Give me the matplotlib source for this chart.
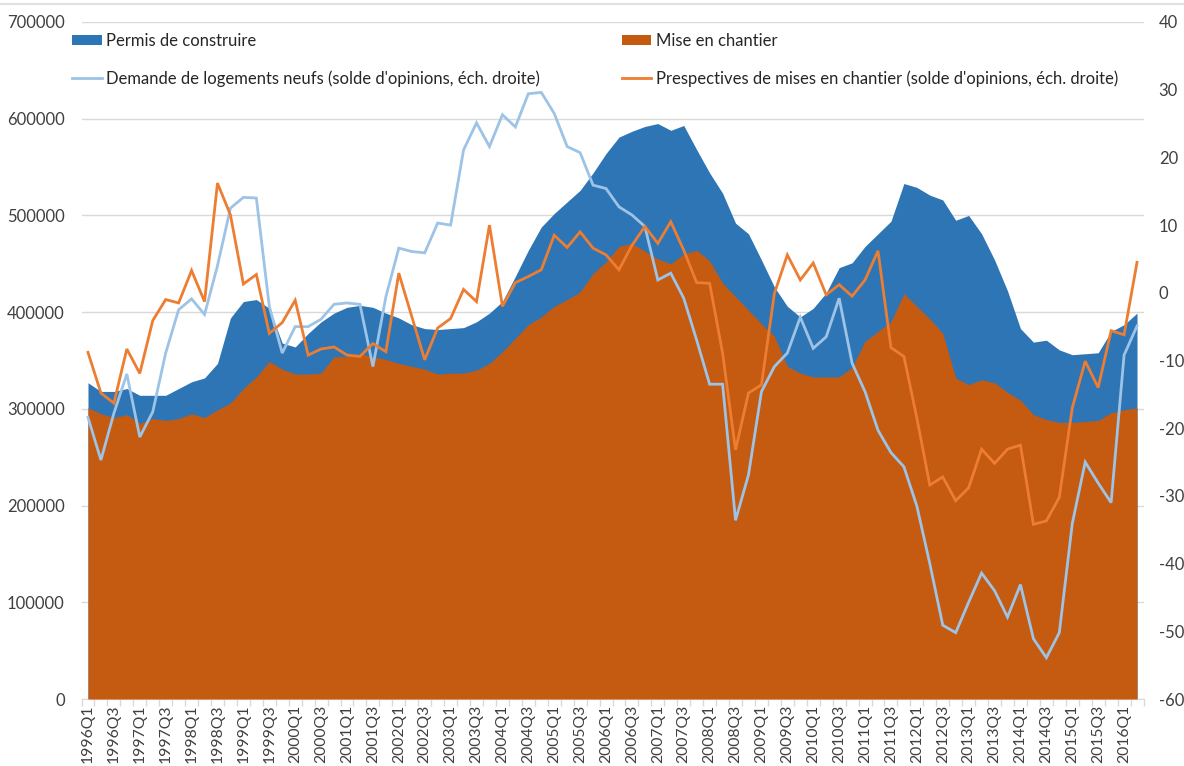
import matplotlib
matplotlib.use("Agg")
import matplotlib.pyplot as plt
from matplotlib.patches import Patch
from matplotlib.lines import Line2D
from matplotlib.ticker import FixedLocator

plt.rcParams['font.family'] = ['Lato', 'DejaVu Sans']
plt.rcParams['axes.unicode_minus'] = False

quarters = [f"{y}Q{q}" for y in range(1996, 2017) for q in range(1, 5)][:82]

permis = [327, 318, 318, 321, 314, 314, 314, 321, 328, 332,
          347, 394, 411, 413, 404, 368, 364, 378, 390, 399,
          405, 407, 405, 399, 394, 387, 383, 382, 383, 384,
          390, 399, 411, 437, 464, 488, 502, 514, 526, 544,
          564, 581, 587, 592, 595, 588, 593, 568, 544, 523,
          492, 481, 454, 426, 406, 395, 404, 420, 446, 451,
          468, 481, 494, 533, 529, 521, 516, 495, 500, 481,
          454, 422, 383, 369, 371, 361, 356, 357, 358, 380,
          387, 399]
permis = [v * 1000 for v in permis]

mises = [301, 295, 291, 294, 285, 290, 288, 290, 295, 291,
         299, 306, 321, 333, 349, 341, 336, 336, 337, 354,
         354, 357, 354, 351, 347, 344, 341, 336, 337, 337,
         340, 347, 359, 373, 387, 395, 406, 413, 421, 440,
         452, 468, 471, 463, 455, 450, 460, 464, 453, 430,
         416, 402, 388, 375, 344, 337, 333, 333, 333, 343,
         370, 380, 390, 419, 406, 393, 378, 332, 325, 330,
         327, 317, 309, 294, 289, 286, 286, 287, 288, 296,
         299, 301]
mises = [v * 1000 for v in mises]

demande = [-18.4, -24.7, -17.8, -12.0, -21.3, -17.6, -8.9, -2.5, -0.9, -3.2,
           4.0, 12.5, 14.1, 14.0, -2.0, -8.9, -5.0, -5.0, -3.9, -1.7,
           -1.5, -1.7, -10.9, -0.6, 6.6, 6.1, 5.9, 10.3, 10.0, 21.1,
           25.1, 21.6, 26.3, 24.5, 29.4, 29.6, 26.5, 21.6, 20.7, 15.9,
           15.4, 12.7, 11.5, 9.8, 1.9, 2.9, -0.8, -7.0, -13.5, -13.5,
           -33.6, -26.9, -14.6, -10.9, -8.9, -3.6, -8.2, -6.5, -0.8, -10.4,
           -14.6, -20.3, -23.6, -25.7, -31.5, -40.0, -49.1, -50.2, -45.7, -41.4,
           -44.0, -47.9, -43.1, -51.1, -53.9, -50.2, -34.1, -25.0, -28.1, -31.0,
           -9.2, -4.9]

perspectives = [-8.8, -14.8, -16.3, -8.3, -11.9, -4.1, -1.0, -1.5, 3.3, -1.3,
                16.2, 11.5, 1.3, 2.7, -6.0, -4.4, -1.1, -9.2, -8.3, -8.0,
                -9.2, -9.4, -7.5, -8.7, 2.9, -3.5, -9.9, -5.2, -3.8, 0.5,
                -1.3, 10.0, -2.0, 1.5, 2.4, 3.4, 8.5, 6.7, 9.0, 6.6,
                5.6, 3.4, 7.0, 9.8, 7.3, 10.5, 6.3, 1.5, 1.4, -8.9,
                -23.2, -14.8, -13.6, -0.1, 5.6, 1.9, 4.4, -0.3, 1.2, -0.5,
                1.9, 6.2, -8.1, -9.4, -18.5, -28.4, -27.2, -30.7, -28.8, -23.1,
                -25.2, -23.1, -22.5, -34.2, -33.7, -30.2, -17.0, -10.1, -14.0, -5.6,
                -6.2, 4.5]

left_ticks = list(range(0, 700001, 100000))
right_ticks = list(range(-60, 41, 10))

C_PERMIS = '#2E75B6'
C_MISES = '#C55A11'
C_DEMANDE = '#9DC3E6'
C_PERSP = '#ED7D31'
TXT = '#404040'
GRID = '#D9D9D9'
FS = 12

W, H = 1184, 766
fig = plt.figure(figsize=(W / 100, H / 100), dpi=100)
fig.patch.set_facecolor('white')
ax = fig.add_axes([81.5 / W, 1 - 699 / H, (1143.5 - 81.5) / W, (699 - 22) / H])

x = list(range(len(quarters)))
ax.fill_between(x, 0, permis, color=C_PERMIS, lw=0, zorder=2)
ax.fill_between(x, 0, mises, color=C_MISES, lw=0, zorder=3)

ax.set_xlim(-0.5, len(quarters) - 0.5)
ax.set_ylim(0, 700000)
ax.set_yticks(left_ticks)
ax.set_yticklabels([str(t) for t in left_ticks])
ax.grid(axis='y', color=GRID, lw=1)
ax.set_axisbelow(True)
for s in ['left', 'right', 'top']:
    ax.spines[s].set_visible(False)
ax.spines['bottom'].set_color(GRID)
ax.tick_params(axis='y', length=0, pad=12, labelsize=FS, labelcolor=TXT)

ax.set_xticks(x[::2])
ax.set_xticklabels(quarters[::2], rotation=90)
ax.xaxis.set_minor_locator(FixedLocator([i - 0.5 for i in range(len(quarters) + 1)]))
ax.tick_params(axis='x', which='major', length=0, pad=4, labelsize=11.3, labelcolor=TXT)
ax.tick_params(axis='x', which='minor', length=5, color=GRID, width=1)

ax2 = ax.twinx()
ax2.plot(x, demande, color=C_DEMANDE, lw=2.0, solid_joinstyle='miter')
ax2.plot(x, perspectives, color=C_PERSP, lw=2.0, solid_joinstyle='miter')
ax2.set_ylim(-60, 40)
ax2.set_yticks(right_ticks)
for s in ['left', 'right', 'top', 'bottom']:
    ax2.spines[s].set_visible(False)
ax2.tick_params(axis='y', length=0, pad=11, labelsize=FS, labelcolor=TXT)

h1 = [Patch(facecolor=C_PERMIS, edgecolor='none'),
      Line2D([], [], color=C_DEMANDE, lw=2)]
l1 = ['Permis de construire',
      "Demande de logements neufs (solde d'opinions, éch. droite)"]
h2 = [Patch(facecolor=C_MISES, edgecolor='none'),
      Line2D([], [], color=C_PERSP, lw=2)]
l2 = ['Mise en chantier',
      "Prespectives de mises en chantier (solde d'opinions, éch. droite)"]
kw = dict(loc='upper left', frameon=False, borderpad=0, fontsize=FS,
          handlelength=1.75, handleheight=0.55, handletextpad=0.3,
          labelspacing=1.25, labelcolor='#262626')
fig.legend(h1, l1, bbox_to_anchor=(64 / W, 1 - 25 / H), **kw)
fig.legend(h2, l2, bbox_to_anchor=(614 / W, 1 - 25 / H), **kw)

fig.add_artist(Line2D([0, 1], [1 - 4 / H, 1 - 4 / H], color='#E0E0E0', lw=1.5,
                      transform=fig.transFigure))

fig.savefig('out.png', dpi=100)
